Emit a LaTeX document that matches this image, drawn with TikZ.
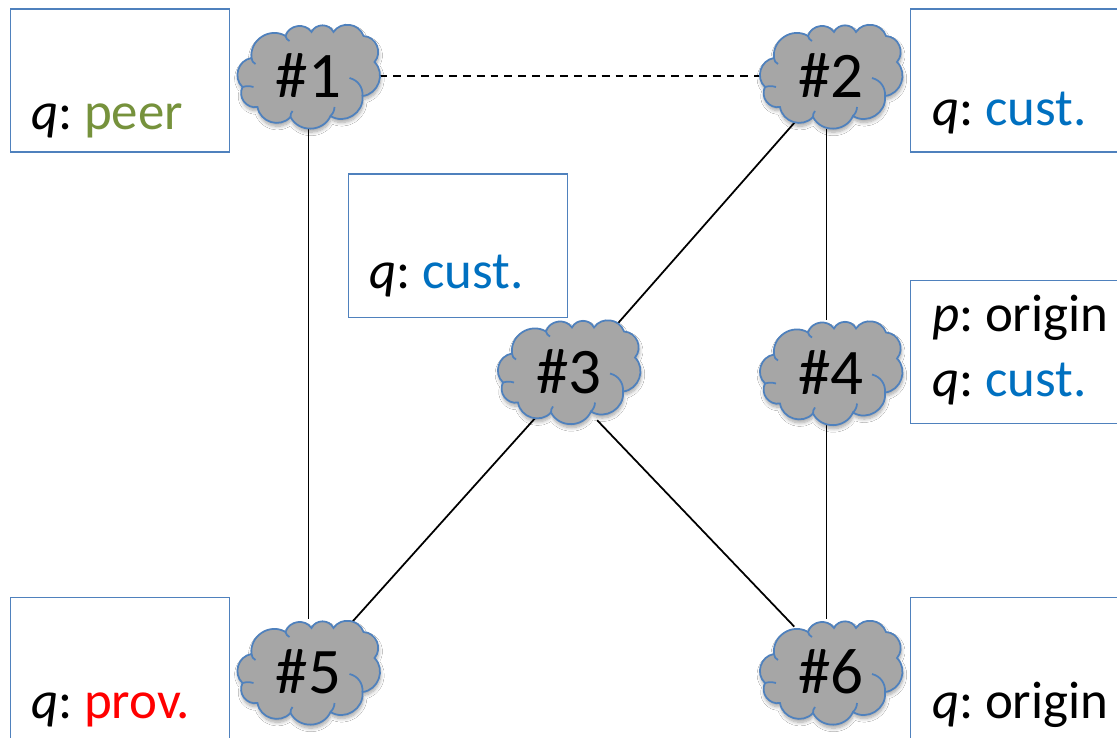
\documentclass[tikz,border=0pt]{standalone}
\usepackage{fontspec}
\setmainfont{Carlito}
\usetikzlibrary{shapes.geometric,shadows.blur,backgrounds}
\definecolor{linkblue}{HTML}{4F81BD}
\definecolor{custblue}{HTML}{0070C0}
\definecolor{peergreen}{HTML}{76923C}
\newcommand{\astextfont}{\fontsize{30.1}{30.1}\selectfont\spaceskip=0.14em\relax}
\tikzset{
    asbox/.style={draw=linkblue,line width=1.1pt,anchor=north west,inner sep=0pt,minimum width=4.38cm,minimum height=2.86cm},
    astext/.style={anchor=base west,inner sep=0pt,font=\astextfont},
    asname/.style={ellipse,inner sep=0pt,outer sep=0pt,minimum width=2.84cm,minimum height=2.12cm,font=\fontsize{37}{37}\selectfont},
    puff/.style={bend left=64,looseness=1.15},
    link/.style={line width=1pt}
}
\newcommand{\ascloud}[4]{
    \begin{scope}[shift={(#2,#3)}]
    \draw[draw=linkblue,line width=1pt,fill=black!35,blur shadow={shadow xshift=0.4pt,shadow yshift=-2pt,shadow blur steps=8,shadow blur radius=2pt,shadow opacity=35}]
        (-1.14,.36) to[puff] (-.46,.80) to[puff] (.06,.88) to[puff] (.50,.88) to[puff] (1.10,.80) to[puff] (1.32,.28)
        to[puff] (1.08,-.40) to[puff] (.44,-.80) to[puff] (-.36,-.82) to[puff] (-1.02,-.62) to[puff] (-1.32,-.22) to[puff] cycle;
    % inner strokes of the lobes
    \draw[draw=linkblue,line width=1pt] (.82,-.04) to[bend left=40] (1.08,-.40);
    \draw[draw=linkblue,line width=1pt] (-1.32,-.22) to[bend left=15] (-1.10,-.22);
    \draw[draw=linkblue,line width=1pt] (-1.14,.36) to[bend right=30] (-1.06,.24);
    \draw[draw=linkblue,line width=1pt] (.44,-.80) to[bend right=20] (.52,-.62);
    \draw[draw=linkblue,line width=1pt] (-.36,-.82) to[bend left=20] (-.32,-.70);
    \draw[draw=linkblue,line width=1pt] (-.46,.80) to[bend right=25] (-.38,.70);
    \end{scope}
    \node[asname] (#1) at (#2,#3) {#4};
}
\begin{document}
\begin{tikzpicture}
    \useasboundingbox (0,0) rectangle (22.34,14.74);

    \node[asbox] (box1) at (0.19,14.57) {};
    \node[asbox] (box2) at (18.19,14.57) {};
    \node[asbox] (box3) at (6.95,11.27) {};
    \node[asbox] (box4) at (18.19,9.15) {};
    \node[asbox] (box5) at (0.19,2.81) {};
    \node[asbox] (box6) at (18.19,2.81) {};

    \ascloud{as1}{6.17}{13.22}{\#1}
    \ascloud{as2}{16.62}{13.22}{\#2}
    \ascloud{as3}{11.38}{7.31}{\#3}
    \ascloud{as4}{16.62}{7.29}{\#4}
    \ascloud{as5}{6.17}{1.3}{\#5}
    \ascloud{as6}{16.62}{1.3}{\#6}

    \begin{pgfonlayer}{background}
    \fill[white] (0,0) rectangle (22.34,14.74);
    \draw[link,dash pattern=on 4.5pt off 3.4pt] (as1.east)--(as2.west);
    \draw[link] (as1.south)--(as5.north);
    \draw[link] (as2.232)--(as3.44);
    \draw[link] (as2.-95)--(as4.95);
    \draw[link] (as4.-95)--(as6.95);
    \draw[link] (as3.234)--(as5.49);
    \draw[link] (as3.-60)--(as6.129);
    \end{pgfonlayer}

    \node[astext] (text1) at (0.62,12.14) {\textit{q}: \textcolor{peergreen}{peer}};
    \node[astext] (text2) at (18.64,12.22) {\textit{q}: \textcolor{custblue}{cust.}};
    \node[astext] (text3) at (7.38,8.96) {\textit{q}: \textcolor{custblue}{cust.}};
    \node[astext] (text4p) at (18.64,8.12) {\textit{p}: origin};
    \node[astext] (text4q) at (18.64,6.82) {\textit{q}: \textcolor{custblue}{cust.}};
    \node[astext] (text5) at (0.62,0.38) {\textit{q}: \textcolor{red}{prov.}};
    \node[astext] (text6) at (18.64,0.38) {\textit{q}: origin};
\end{tikzpicture}
\end{document}
